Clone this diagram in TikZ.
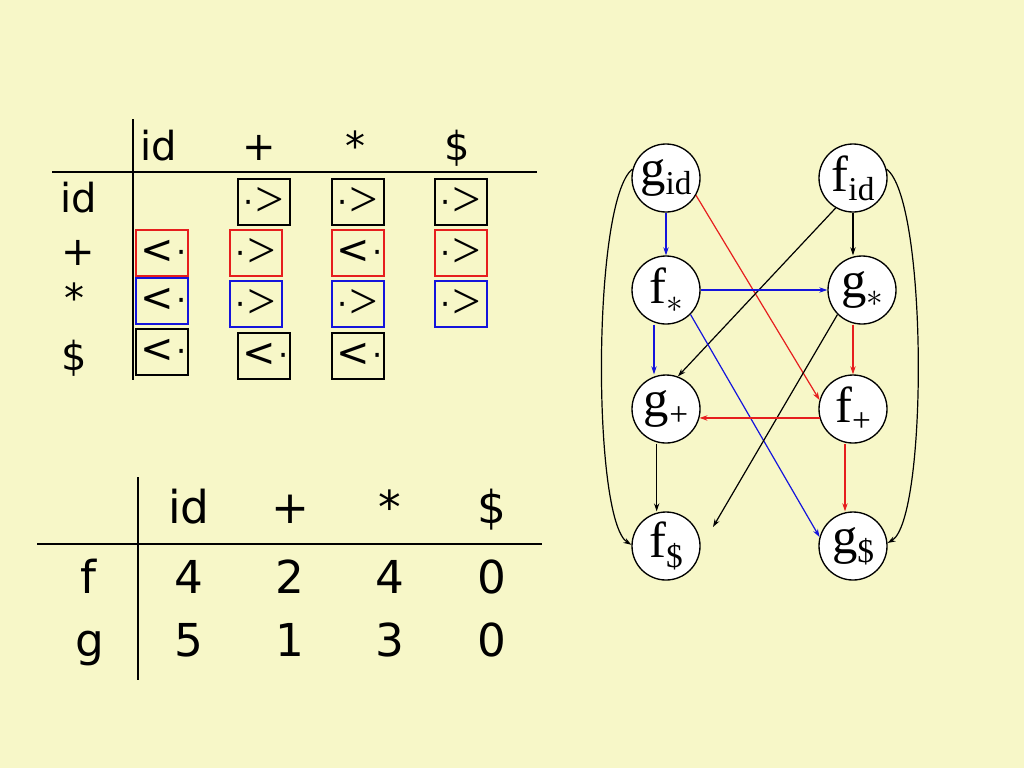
\documentclass[tikz,border=0pt]{standalone}
\usepackage{fontspec}
\setmainfont{DejaVu Sans}
\newfontfamily\serifnode{Liberation Serif}
\usetikzlibrary{arrows.meta}
\definecolor{bg}{RGB}{247,247,200}
\definecolor{cred}{RGB}{230,30,30}
\definecolor{cblue}{RGB}{20,20,220}
\tikzset{
  tbl/.style={font=\fontsize{30}{30}\selectfont, anchor=base, inner sep=0pt},
  tbl2/.style={font=\fontsize{34}{34}\selectfont, anchor=base, inner sep=0pt},
  relbox/.style={draw, line width=1pt, minimum width=39pt, minimum height=34.5pt, inner sep=0pt, font=\fontsize{30}{30}\selectfont},
  gnode/.style={circle, draw, fill=white, line width=1pt, minimum size=51pt, inner sep=0pt, font=\serifnode\fontsize{38}{38}\selectfont},
  arr/.style={line width=0.9pt, -{Stealth[length=6pt,width=4pt]}},
}
\newcommand{\lt}{\hspace*{2pt}\raisebox{1pt}{<}\kern1.5pt\raisebox{1pt}{\fontsize{24}{24}\selectfont\textperiodcentered}}
\newcommand{\gt}{\raisebox{2pt}{\fontsize{24}{24}\selectfont\textperiodcentered}\kern1pt{\serifnode\fontsize{38}{38}\selectfont >}}
\newcommand{\sub}[1]{\raisebox{-7pt}{\fontsize{25}{25}\selectfont #1}}
\begin{document}
\begin{tikzpicture}[x=0.75pt,y=-0.75pt]
\fill[bg] (0,0) rectangle (1024,768);
\useasboundingbox (0,0) rectangle (1024,768);
% ---- top table ----
\draw[line width=1pt] (133,119) -- (133,380);
\draw[line width=1pt] (52,172) -- (537,172);
\node[tbl] (hid) at (159,160) {id};
\node[tbl] (hplus) at (259,160) {+};
\node[tbl] (hstar) at (355,160) {*};
\node[tbl] (hdol) at (457,160) {\$};
\node[tbl] (rid) at (79,212) {id};
\node[tbl] (rplus) at (78,265) {+};
\node[tbl] (rstar) at (74,312) {*};
\node[tbl] (rdol) at (74,370) {\$};
% row id
\node[relbox] (b1) at (264,202) {\gt};
\node[relbox] (b2) at (358,202) {\gt};
\node[relbox] (b3) at (461,202) {\gt};
% row +
\node[relbox,draw=cred] (b4) at (162,253) {\lt};
\node[relbox,draw=cred] (b5) at (256,253) {\gt};
\node[relbox,draw=cred] (b6) at (358,253) {\lt};
\node[relbox,draw=cred] (b7) at (461,253) {\gt};
% row *
\node[relbox,draw=cblue] (b8) at (162,301) {\lt};
\node[relbox,draw=cblue] (b9) at (256,304) {\gt};
\node[relbox,draw=cblue] (b10) at (358,304) {\gt};
\node[relbox,draw=cblue] (b11) at (461,304) {\gt};
% row $
\node[relbox] (b12) at (162,352) {\lt};
\node[relbox] (b13) at (264,356) {\lt};
\node[relbox] (b14) at (358,356) {\lt};
% ---- bottom table ----
\draw[line width=1pt] (138,477) -- (138,680);
\draw[line width=1pt] (37,544) -- (542,544);
\node[tbl2] (bid) at (189,523) {id};
\node[tbl2] (bplus) at (290,523) {+};
\node[tbl2] (bstar) at (390,523) {*};
\node[tbl2] (bdol) at (492,523) {\$};
\node[tbl2] (rf) at (88,593) {f};
\node[tbl2] (rg) at (90,656) {g};
\node[tbl2] (f1) at (189,593) {4};
\node[tbl2] (f2) at (290,593) {2};
\node[tbl2] (f3) at (390,593) {4};
\node[tbl2] (f4) at (492,593) {0};
\node[tbl2] (g1) at (189,656) {5};
\node[tbl2] (g2) at (290,656) {1};
\node[tbl2] (g3) at (390,656) {3};
\node[tbl2] (g4) at (492,656) {0};
% ---- graph ----
\node[gnode] (gid) at (666,178) {g\sub{id}};
\node[gnode] (fid) at (853,178) {f\sub{id}};
\node[gnode] (fst) at (666,290) {f\sub{$*$}};
\node[gnode] (gst) at (862,290) {g\sub{$*$}};
\node[gnode] (gpl) at (666,409) {g\sub{+}};
\node[gnode] (fpl) at (853,409) {f\sub{+}};
\node[gnode] (fdl) at (666,546) {f\sub{\$}};
\node[gnode] (gdl) at (853,546) {g\sub{\$}};
\coordinate (free) at (713,527);
% edges
\draw[arr,cblue] (gid.south) -- (fst.north);
\draw[arr,cred] (gid.-30) -- (fpl.165);
\draw[arr] (fid.south) -- (gst.north -| fid.south);
\draw[arr] (fid.-120) -- (gpl.70);
\draw[arr,cblue] (fst.east) -- (gst.west);
\draw[arr,cblue] (fst.-45) -- (gdl.165);
\draw[arr,cblue] ([xshift=-9pt]fst.south) -- ([xshift=-9pt]gpl.north);
\draw[arr,cred] (gst.south -| fpl.north) -- (fpl.north);
\draw[arr] (gst.-135) -- (free);
\draw[arr,cred] (fpl.-165) -- (gpl.-15);
\draw[arr,cred] ([xshift=-6pt]fpl.south) -- ([xshift=-6pt]gdl.north);
\draw[arr] ([xshift=-7pt]gpl.south) -- ([xshift=-7pt]fdl.north);
\draw[arr] (gid.165) .. controls (592,200) and (592,520) .. (fdl.178);
\draw[arr] (fid.15) .. controls (928,200) and (928,520) .. (gdl.5);
\end{tikzpicture}
\end{document}
